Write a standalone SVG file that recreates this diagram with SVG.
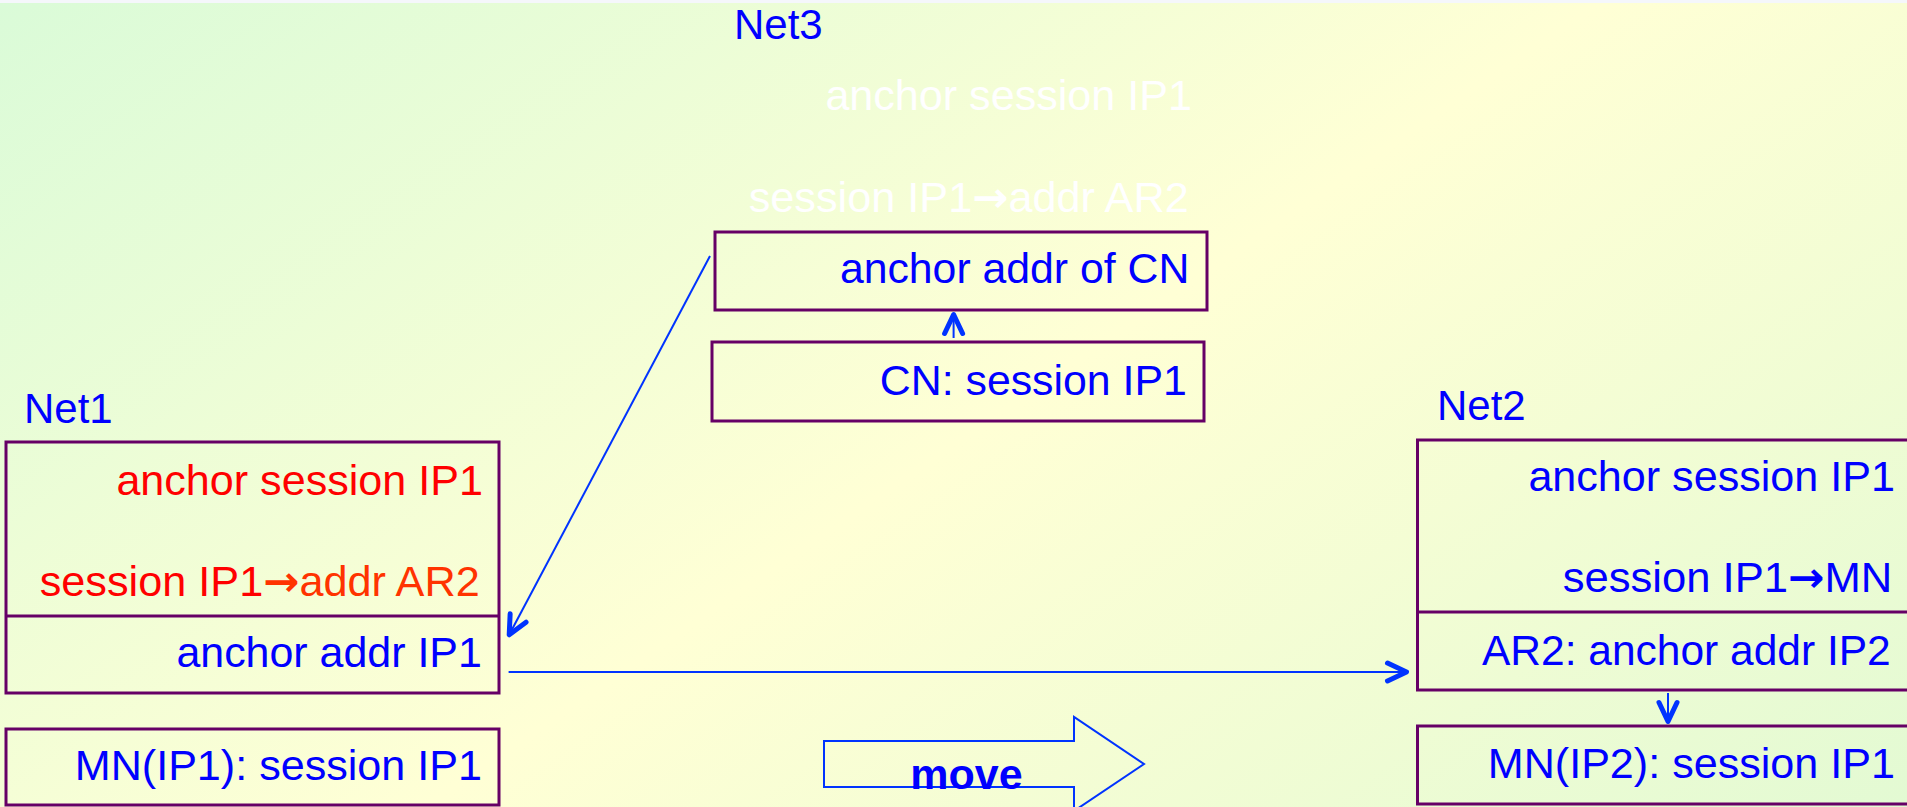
<svg xmlns="http://www.w3.org/2000/svg" width="1907" height="807" viewBox="0 0 1907 807">
  <defs>
    <!-- diagonal mint / pale-yellow slide background -->
    <linearGradient id="bg" gradientUnits="userSpaceOnUse" x1="0" y1="0" x2="985" y2="1438">
      <stop offset="0" stop-color="#DAFBD8"/>
      <stop offset="0.52" stop-color="#FFFFD5"/>
      <stop offset="1" stop-color="#E3FAD3"/>
    </linearGradient>
    <!-- open chevron arrowhead shared by all connectors -->
    <marker id="chev" markerUnits="userSpaceOnUse" markerWidth="40" markerHeight="40" viewBox="-30 -20 40 40" refX="0" refY="0" orient="auto">
      <path d="M-19,-9 L0,0 L-19,9" fill="none" stroke="#0033FF" stroke-width="5" stroke-linecap="round" stroke-linejoin="round"/>
    </marker>
    <style>
      .box{fill:none;stroke:#660066;stroke-width:3}
      .t{font-family:"Liberation Sans",Arial,sans-serif;font-size:42px}
      .arr{font-family:"DejaVu Sans",sans-serif;font-weight:bold}
      .blue{fill:#0000FF}
      .red{fill:#FF0000}
      .orange{fill:#FF3300}
      .ghost{fill:#FFFFFF}
      .net{font-family:"Liberation Sans",Arial,sans-serif;font-size:42px;fill:#0000FF}
      .conn{stroke:#0033FF;stroke-width:2;fill:none;marker-end:url(#chev)}
      .move{fill:none;stroke:#0033FF;stroke-width:2}
      .movelbl{font-family:"Liberation Sans",Arial,sans-serif;font-size:43px;font-weight:bold;fill:#0000FF}
    </style>
  </defs>

  <!-- background -->
  <rect x="0" y="0" width="1907" height="807" fill="url(#bg)"/>
  <rect x="0" y="0" width="1907" height="3" fill="#F5F7FB"/>

  <!-- Net3: correspondent node side -->
  <g id="net3">
    <text class="net" x="734" y="39">Net3</text>
    <text class="t ghost" x="825.4" y="110" textLength="366.5" lengthAdjust="spacingAndGlyphs">anchor session IP1</text>
    <text class="t ghost" x="748.7" y="212" textLength="440" lengthAdjust="spacingAndGlyphs">session IP1<tspan class="arr">→</tspan>addr AR2</text>
  </g>
  <g id="net3-anchor">
    <rect class="box" x="715" y="232" width="492" height="78"/>
    <text class="t blue" x="839.9" y="283" textLength="349.4" lengthAdjust="spacingAndGlyphs">anchor addr of CN</text>
  </g>
  <g id="net3-cn">
    <rect class="box" x="712" y="342" width="492" height="79"/>
    <text class="t blue" x="879.8" y="395" textLength="307.1" lengthAdjust="spacingAndGlyphs">CN: session IP1</text>
  </g>

  <!-- Net1: old access network -->
  <g id="net1">
    <text class="net" x="24" y="423">Net1</text>
    <rect class="box" x="6" y="442" width="493" height="251"/>
    <line class="box" x1="6" y1="616" x2="499" y2="616"/>
    <text class="t red" x="116.4" y="495" textLength="366.5" lengthAdjust="spacingAndGlyphs">anchor session IP1</text>
    <text class="t" x="39.7" y="596" textLength="440" lengthAdjust="spacingAndGlyphs"><tspan class="red">session IP1</tspan><tspan class="orange arr">→</tspan><tspan class="orange">addr AR2</tspan></text>
    <text class="t blue" x="176.4" y="667" textLength="305.5" lengthAdjust="spacingAndGlyphs">anchor addr IP1</text>
  </g>
  <g id="net1-mn">
    <rect class="box" x="6" y="729" width="493" height="76"/>
    <text class="t blue" x="74.8" y="780" textLength="407.1" lengthAdjust="spacingAndGlyphs">MN(IP1): session IP1</text>
  </g>

  <!-- Net2: new access network -->
  <g id="net2">
    <text class="net" x="1437" y="420">Net2</text>
    <rect class="box" x="1417.5" y="440" width="600" height="250"/>
    <line class="box" x1="1417.5" y1="612" x2="1920" y2="612"/>
    <text class="t blue" x="1528.4" y="491" textLength="366.5" lengthAdjust="spacingAndGlyphs">anchor session IP1</text>
    <text class="t blue" x="1562.7" y="592" textLength="329.6" lengthAdjust="spacingAndGlyphs">session IP1<tspan class="arr">→</tspan>MN</text>
    <text class="t blue" x="1482" y="665" textLength="408.7" lengthAdjust="spacingAndGlyphs">AR2: anchor addr IP2</text>
  </g>
  <g id="net2-mn">
    <rect class="box" x="1417.5" y="726" width="600" height="78"/>
    <text class="t blue" x="1487.8" y="778" textLength="407.1" lengthAdjust="spacingAndGlyphs">MN(IP2): session IP1</text>
  </g>

  <!-- block arrow showing the handover -->
  <g id="move">
    <polygon class="move" points="824,741 1074,741 1074,717 1144,764 1074,811 1074,787 824,787"/>
    <text class="movelbl" x="966.5" y="789" text-anchor="middle">move</text>
  </g>

  <!-- connectors -->
  <g id="connectors">
    <line class="conn" x1="710" y1="256" x2="509.2" y2="634.8"/>
    <line class="conn" x1="508.6" y1="672" x2="1406.5" y2="672"/>
    <line class="conn" x1="953.6" y1="338" x2="953.6" y2="314.5"/>
    <line class="conn" x1="1668" y1="693" x2="1668" y2="721.5"/>
  </g>
</svg>
